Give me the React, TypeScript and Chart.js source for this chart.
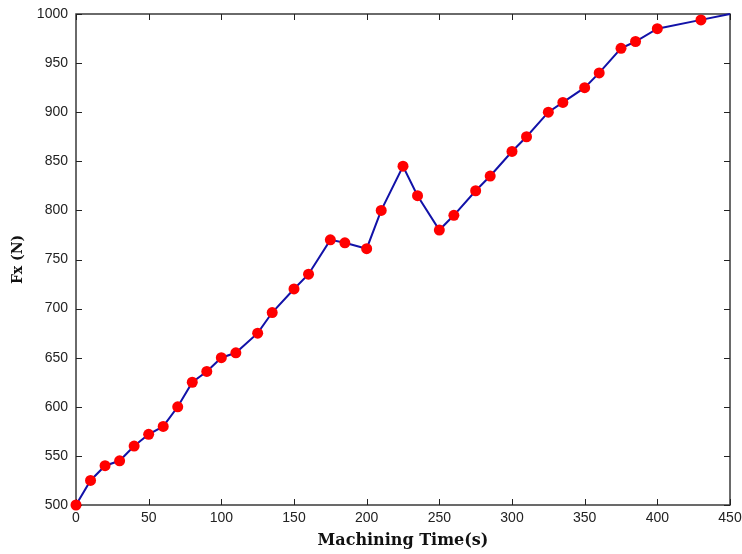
import React, { useEffect, useRef } from "react";
import { Chart, registerables } from "chart.js";

Chart.register(...registerables);

const timeValues = [0, 10, 20, 30, 40, 50, 60, 70, 80, 90, 100, 110, 125, 135, 150, 160, 175, 185, 200, 210, 225, 235, 250, 260, 275, 285, 300, 310, 325, 335, 350, 360, 375, 385, 400, 430, 450];
const fxValues = [500, 525, 540, 545, 560, 572, 580, 600, 625, 636, 650, 655, 675, 696, 720, 735, 770, 767, 761, 800, 845, 815, 780, 795, 820, 835, 860, 875, 900, 910, 925, 940, 965, 972, 985, 994, 1000];
const markerShown = [true, true, true, true, true, true, true, true, true, true, true, true, true, true, true, true, true, true, true, true, true, true, true, true, true, true, true, true, true, true, true, true, true, true, true, true, false];

const xTitle = "Machining Time(s)";
const yTitle = "Fx (N)";

const framePlugin = {
  id: "matlabFrame",
  beforeDatasetsDraw(chart: any) {
    const { ctx, chartArea } = chart;
    const { left, right, top, bottom } = chartArea;
    const xs = chart.scales.x;
    const ys = chart.scales.y;
    const len = 6;
    ctx.save();
    ctx.strokeStyle = "#3a3a3a";
    ctx.lineWidth = 1.5;
    ctx.strokeRect(left, top, right - left, bottom - top);
    ctx.lineWidth = 1;
    ctx.strokeStyle = "#222222";
    ctx.beginPath();
    xs.ticks.forEach((t: any) => {
      const px = Math.round(xs.getPixelForValue(t.value)) + 0.5;
      ctx.moveTo(px, bottom);
      ctx.lineTo(px, bottom - len);
      ctx.moveTo(px, top);
      ctx.lineTo(px, top + len);
    });
    ys.ticks.forEach((t: any) => {
      const py = Math.round(ys.getPixelForValue(t.value)) + 0.5;
      ctx.moveTo(left, py);
      ctx.lineTo(left + len, py);
      ctx.moveTo(right, py);
      ctx.lineTo(right - len, py);
    });
    ctx.stroke();
    ctx.restore();
  },
};

export default function App() {
  const canvasRef = useRef<HTMLCanvasElement | null>(null);

  useEffect(() => {
    if (!canvasRef.current) return;
    const data = timeValues.map((t, i) => ({ x: t, y: fxValues[i] }));
    const chart = new Chart(canvasRef.current, {
      type: "line",
      data: {
        datasets: [
          {
            data,
            borderColor: "#1212a8",
            borderWidth: 2,
            backgroundColor: "#ff0000",
            pointBackgroundColor: "#ff0000",
            pointBorderColor: "#ff0000",
            pointBorderWidth: 0,
            pointRadius: markerShown.map((m) => (m ? 5.5 : 0)),
            tension: 0,
            clip: false,
          } as any,
        ],
      },
      options: {
        animation: false,
        responsive: false,
        maintainAspectRatio: false,
        layout: { padding: { left: 6, right: 12, top: 14, bottom: 4 } },
        plugins: {
          legend: { display: false },
          tooltip: { enabled: false },
        },
        scales: {
          x: {
            type: "linear",
            min: 0,
            max: 450,
            ticks: {
              stepSize: 50,
              color: "#222222",
              padding: 5,
              font: { family: "Liberation Sans", size: 14 },
              callback: (v: any) => String(v),
            },
            grid: { display: false, drawTicks: false },
            border: { display: false },
            title: {
              display: true,
              text: xTitle,
              color: "#111111",
              padding: { top: 3, bottom: 0 },
              font: { family: "DejaVu Serif", size: 16, weight: "bold" },
            },
            afterFit(scale: any) {
              scale.height = 45;
              scale.paddingLeft = 0;
              scale.paddingRight = 0;
            },
          },
          y: {
            type: "linear",
            min: 500,
            max: 1000,
            ticks: {
              stepSize: 50,
              color: "#222222",
              padding: 8,
              font: { family: "Liberation Sans", size: 14 },
              callback: (v: any) => String(v),
            },
            grid: { display: false, drawTicks: false },
            border: { display: false },
            title: {
              display: true,
              text: yTitle,
              color: "#111111",
              padding: { top: 4, bottom: 2 },
              font: { family: "DejaVu Serif", size: 14, weight: "bold" },
            },
            afterFit(scale: any) {
              scale.width = 70;
              scale.paddingTop = 0;
              scale.paddingBottom = 0;
            },
          },
        },
      },
      plugins: [framePlugin],
    });
    return () => chart.destroy();
  }, []);

  return (
    <div style={{ position: "fixed", left: 0, top: 0, width: 742, height: 554, background: "#ffffff" }}>
      <canvas ref={canvasRef} width={742} height={554} style={{ width: 742, height: 554 }} />
    </div>
  );
}
